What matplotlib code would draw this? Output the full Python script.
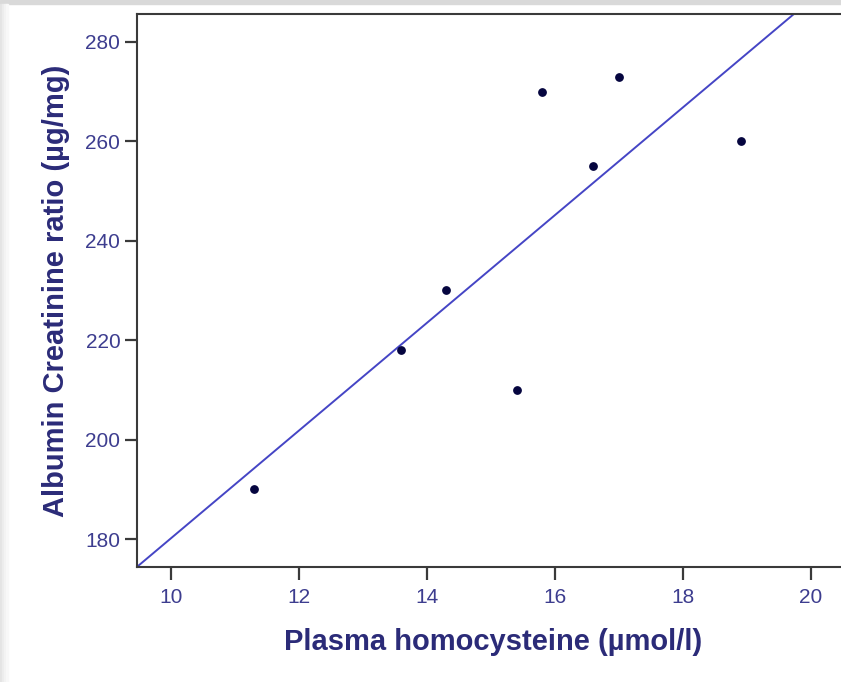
import matplotlib.pyplot as plt
import numpy as np
from matplotlib.patches import Rectangle

# homocysteine vs. albumin/creatinine ratio
homocisteina = [11.3, 13.6, 14.3, 15.4, 15.8, 16.6, 17.0, 18.9]
razao_acr = [190, 218, 230, 210, 270, 255, 273, 260]

x_ticks = [10, 12, 14, 16, 18, 20]
y_ticks = [180, 200, 220, 240, 260, 280]

cor_texto = '#2b2b78'
cor_ticks = '#3d3d8f'
cor_eixo = '#3a3a3a'


def criar_grafico():
    plt.rcParams['font.family'] = ['Liberation Sans', 'DejaVu Sans']

    fig = plt.figure(figsize=(8.41, 6.82), dpi=100)
    fig.patch.set_facecolor('white')

    # moldura cinza clara no topo e na esquerda
    fig.patches.append(Rectangle((0, 0.994), 1, 0.006, transform=fig.transFigure,
                                 color='#d9d9d9', zorder=0))
    for i, c in enumerate(['#e4e4e4', '#ececec', '#f3f3f3', '#f8f8f8']):
        fig.patches.append(Rectangle((i * 0.0025, 0), 0.0025, 0.994,
                                     transform=fig.transFigure, color=c, zorder=0))

    ax = fig.add_axes([0.1629, 0.1686, 0.847, 0.8109])

    x = np.array(homocisteina)
    y = np.array(razao_acr)
    a, b = np.polyfit(x, y, 1)
    xs = np.array([9.0, 21.0])
    ax.plot(xs, a * xs + b, color='#4545c5', linewidth=1.4, zorder=2)
    ax.scatter(x, y, s=28, color='#05053f', zorder=3)

    ax.set_xlim(9.47, 20.6)
    ax.set_ylim(174.4, 285.6)
    ax.set_xticks(x_ticks)
    ax.set_yticks(y_ticks)

    for s in ax.spines.values():
        s.set_color(cor_eixo)
        s.set_linewidth(1.5)

    ax.tick_params(axis='both', direction='out', length=9, width=1.6,
                   color=cor_eixo, labelcolor=cor_ticks, labelsize=15)
    ax.tick_params(axis='y', pad=3)
    ax.tick_params(axis='x', pad=6)

    ax.set_xlabel('Plasma homocysteine (µmol/l)', fontsize=21, fontweight='bold',
                  color=cor_texto, labelpad=15)
    ax.set_ylabel('Albumin Creatinine ratio (µg/mg)', fontsize=21, fontweight='bold',
                  color=cor_texto, labelpad=11)

    plt.savefig('out.png', dpi=100)


def main():
    criar_grafico()


if __name__ == "__main__":
    main()
